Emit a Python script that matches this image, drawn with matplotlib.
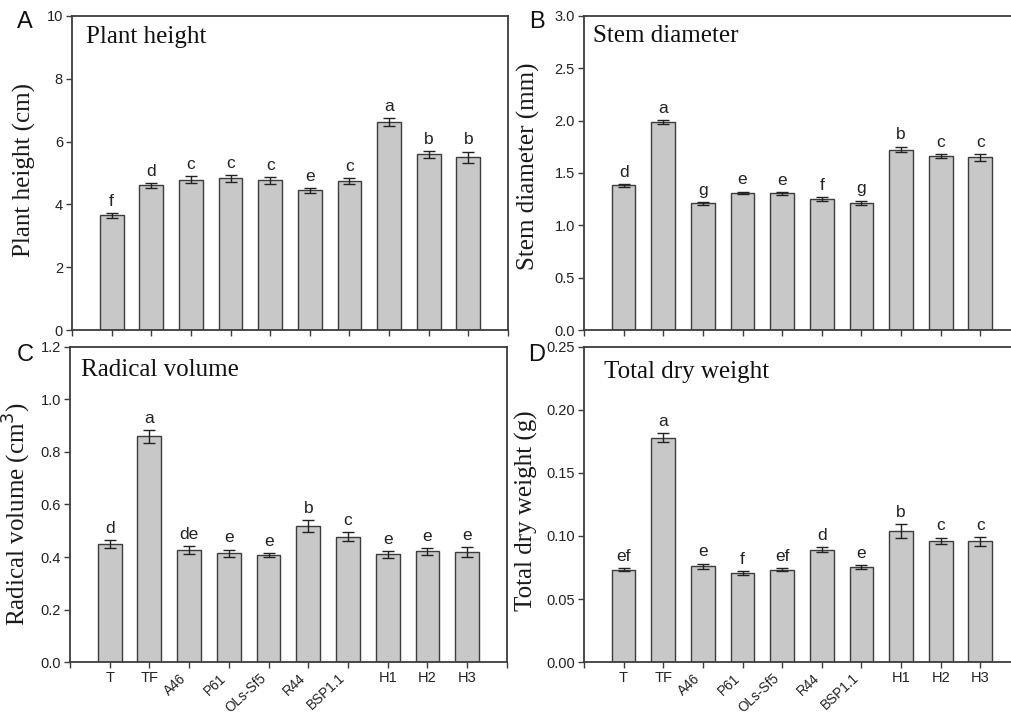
import matplotlib
matplotlib.use("Agg")
import matplotlib.pyplot as plt
import numpy as np

categories = ["T", "TF", "A46", "P61", "OLs-Sf5", "R44", "BSP1.1", "H1", "H2", "H3"]
rotated = [False, False, True, True, True, True, True, False, False, False]

height_mean = [3.65, 4.61, 4.79, 4.83, 4.77, 4.45, 4.74, 6.62, 5.60, 5.50]
height_err = [0.07, 0.08, 0.12, 0.11, 0.11, 0.08, 0.10, 0.13, 0.11, 0.18]
height_letters = ["f", "d", "c", "c", "c", "e", "c", "a", "b", "b"]

stem_mean = [1.381, 1.987, 1.210, 1.311, 1.305, 1.251, 1.216, 1.724, 1.660, 1.648]
stem_err = [0.015, 0.015, 0.012, 0.012, 0.015, 0.022, 0.020, 0.028, 0.020, 0.033]
stem_letters = ["d", "a", "g", "e", "e", "f", "g", "b", "c", "c"]

root_mean = [0.449, 0.860, 0.426, 0.414, 0.407, 0.518, 0.477, 0.411, 0.422, 0.420]
root_err = [0.015, 0.024, 0.014, 0.014, 0.008, 0.022, 0.017, 0.013, 0.013, 0.019]
root_letters = ["d", "a", "de", "e", "e", "b", "c", "e", "e", "e"]

dry_mean = [0.0734, 0.178, 0.0761, 0.0703, 0.0732, 0.0891, 0.0756, 0.1039, 0.0962, 0.0957]
dry_err = [0.0013, 0.0038, 0.0020, 0.0016, 0.0013, 0.0020, 0.0015, 0.0057, 0.0025, 0.0037]
dry_letters = ["ef", "a", "e", "f", "ef", "d", "e", "b", "c", "c"]

panels = [
    dict(letter="A", title="Plant height", ylabel="Plant height (cm)",
         mean=height_mean, err=height_err, letters=height_letters,
         yticks=[0, 2, 4, 6, 8, 10], fmt="{:.0f}", ylim=10,
         rect=[0.0712, 0.5391, 0.4313, 0.4386], showx=False,
         title_xy=(0.032, 0.914), lab_x=-0.083, lab_y=0.51, letter_xy=(25, 22)),
    dict(letter="B", title="Stem diameter", ylabel="Stem diameter (mm)",
         mean=stem_mean, err=stem_err, letters=stem_letters,
         yticks=[0, 0.5, 1.0, 1.5, 2.0, 2.5, 3.0], fmt="{:.1f}", ylim=3.0,
         rect=[0.5776, 0.5391, 0.4313, 0.4386], showx=False,
         title_xy=(0.02, 0.917), lab_x=-0.101, lab_y=0.52, letter_xy=(537, 22)),
    dict(letter="C", title="Radical volume", ylabel="Radical volume (cm$^{3}$)",
         mean=root_mean, err=root_err, letters=root_letters,
         yticks=[0, 0.2, 0.4, 0.6, 0.8, 1.0, 1.2], fmt="{:.1f}", ylim=1.2,
         rect=[0.0692, 0.0754, 0.4322, 0.4400], showx=True,
         title_xy=(0.025, 0.908), lab_x=-0.085, lab_y=0.47, letter_xy=(25, 355)),
    dict(letter="D", title="Total dry weight", ylabel="Total dry weight (g)",
         mean=dry_mean, err=dry_err, letters=dry_letters,
         yticks=[0, 0.05, 0.10, 0.15, 0.20, 0.25], fmt="{:.2f}", ylim=0.25,
         rect=[0.5776, 0.0754, 0.4313, 0.4400], showx=True,
         title_xy=(0.046, 0.90), lab_x=-0.105, lab_y=0.48, letter_xy=(537, 355)),
]

W, H = 1011, 716
fig = plt.figure(figsize=(W / 100, H / 100), dpi=100)

spine_col = "#3c3c3c"
bar_col = "#c8c8c8"
serif = ["Liberation Serif", "DejaVu Serif"]
sans = ["Liberation Sans", "DejaVu Sans"]

x = np.arange(1, len(categories) + 1)

for p in panels:
    ax = fig.add_axes(p["rect"])
    ax.bar(x, p["mean"], width=0.6, color=bar_col, edgecolor=spine_col,
           linewidth=1.0, zorder=2)
    ax.errorbar(x, p["mean"], yerr=p["err"], fmt="none", ecolor="#222222",
                elinewidth=1.0, capsize=4, capthick=1.0, zorder=3)
    for xi, m, e, lt in zip(x, p["mean"], p["err"], p["letters"]):
        ax.annotate(lt, (xi, m + e), xytext=(0, 3), textcoords="offset points",
                    ha="center", va="bottom", fontsize=12.5, family=sans,
                    color="#222222")
    ax.set_xlim(0, 11)
    ax.set_ylim(0, p["ylim"])
    ax.set_yticks(p["yticks"])
    ax.set_yticklabels([p["fmt"].format(v) for v in p["yticks"]],
                       family=sans, fontsize=10.5, color="#222222")
    ax.set_xticks([0] + list(x) + [11])
    if p["showx"]:
        labs = ax.set_xticklabels([""] + categories + [""], family=sans,
                                  fontsize=10.5, color="#222222")
        for lab, rot in zip(labs[1:-1], rotated):
            if rot:
                lab.set_rotation(43)
                lab.set_fontsize(9.8)
                lab.set_ha("right")
                lab.set_va("top")
    else:
        ax.set_xticklabels([])
    ax.tick_params(direction="out", length=4.5, width=1.0, color=spine_col,
                   pad=2, top=False, right=False)
    for s in ax.spines.values():
        s.set_color(spine_col)
        s.set_linewidth(1.3)
    ax.set_ylabel(p["ylabel"], family=serif, fontsize=18, color="#1a1a1a")
    ax.yaxis.set_label_coords(p["lab_x"], p["lab_y"])
    ax.text(p["title_xy"][0], p["title_xy"][1], p["title"], transform=ax.transAxes,
            family=serif, fontsize=18, ha="left", va="baseline", color="#111111")
    lx, ly = p["letter_xy"]
    fig.text(lx / W, 1 - ly / H, p["letter"], family=sans, fontsize=17,
             ha="center", va="center", color="#111111")

fig.savefig("out.png", dpi=100)
